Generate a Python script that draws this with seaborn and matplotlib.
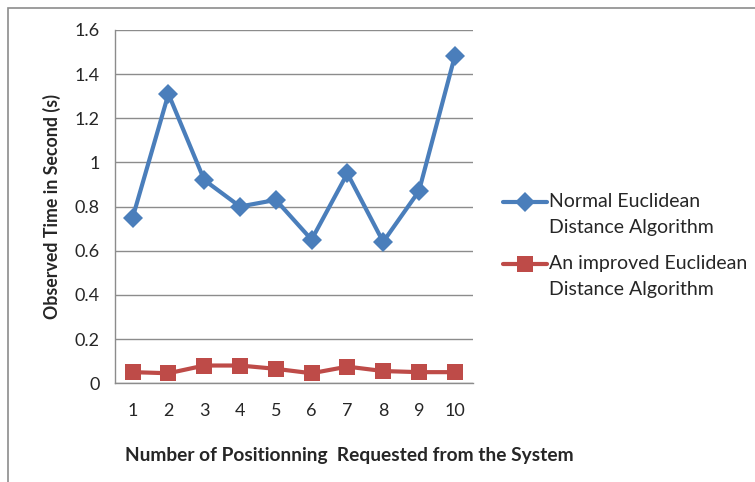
import numpy as np
import pandas as pd
import seaborn as sns
import matplotlib.pyplot as plt
from matplotlib.patches import Rectangle

requests = [1, 2, 3, 4, 5, 6, 7, 8, 9, 10]
normal_times = [0.75, 1.31, 0.92, 0.80, 0.83, 0.65, 0.95, 0.64, 0.87, 1.48]
improved_times = [0.05, 0.045, 0.08, 0.08, 0.065, 0.045, 0.075, 0.055, 0.05, 0.05]
series_names = ["Normal Euclidean\nDistance Algorithm",
                "An improved Euclidean\nDistance Algorithm"]

sns.set_style("white")
plt.rcParams['font.family'] = ['Lato', 'DejaVu Sans']

fig = plt.figure(figsize=(7.55, 4.82), dpi=100)
ax = fig.add_axes([0.152, 0.205, 0.474, 0.733])

# outer chart frame
fig.patches.append(Rectangle((0.011, -0.05), 1.2, 1.033, transform=fig.transFigure,
                             fill=False, edgecolor="#8c8c8c", lw=1.2))

sns.lineplot(x=requests, y=normal_times, color="#4a7ebb", marker="D",
             markersize=10, linewidth=3, markeredgewidth=0, label=series_names[0], ax=ax)
sns.lineplot(x=requests, y=improved_times, color="#be4b48", marker="s",
             markersize=12, linewidth=3, markeredgewidth=0, label=series_names[1], ax=ax)

ax.set_xlim(0.5, 10.5)
ax.set_ylim(0, 1.6)
ax.set_yticks(np.arange(0, 1.61, 0.2))
ax.set_yticklabels(["0", "0.2", "0.4", "0.6", "0.8", "1", "1.2", "1.4", "1.6"])
ax.yaxis.grid(True, color="#8c8c8c", lw=1)
ax.set_axisbelow(True)

ax.set_xticks(requests)
ax.set_xticklabels([str(r) for r in requests])
ax.set_xticks(np.arange(0.5, 10.6, 1), minor=True)
ax.tick_params(axis="x", which="major", length=0, pad=14, labelsize=13)
ax.tick_params(axis="x", which="minor", length=6, color="#8c8c8c", direction="out", width=1)
ax.tick_params(axis="y", length=5, color="#8c8c8c", direction="out", labelsize=13, pad=6)

for s in ["top", "right"]:
    ax.spines[s].set_visible(False)
for s in ["left", "bottom"]:
    ax.spines[s].set_color("#8c8c8c")
    ax.spines[s].set_linewidth(1)

ax.set_xlabel("Number of Positionning  Requested from the System",
              fontsize=13.8, fontweight="bold")
ax.xaxis.set_label_coords(0.656, -0.18)
ax.set_ylabel("Observed Time in Second (s)", fontsize=12.8, fontweight="bold")
ax.yaxis.set_label_coords(-0.15, 0.5)

leg = ax.legend(loc="center left", bbox_to_anchor=(1.084, 0.39), frameon=False, borderpad=0,
                borderaxespad=0, fontsize=14, handlelength=2.3, handletextpad=0.1,
                handleheight=1.3, labelspacing=1.0)
for t in leg.get_texts():
    t.set_linespacing(1.6)
# put the legend line next to the first text line, as Excel does
for col in leg._legend_handle_box.get_children():
    for row in col.get_children():
        row.align = "top"

fig.savefig("out.png", dpi=100)
